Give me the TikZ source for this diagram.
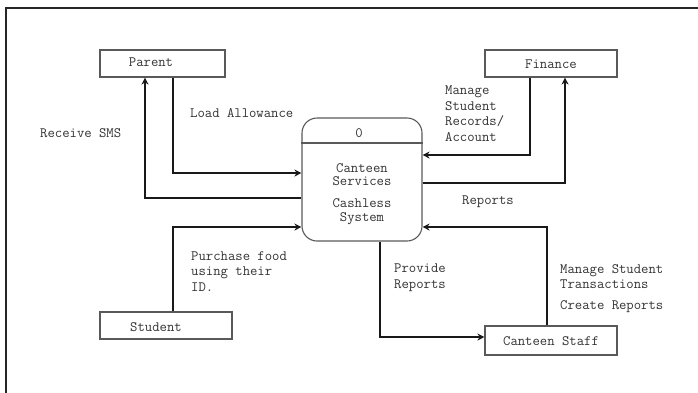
\documentclass[tikz,border=0pt]{standalone}
\usepackage{fontspec}
\usetikzlibrary{arrows.meta}
\begin{document}
\begin{tikzpicture}[x=1pt,y=-1pt,
  ent/.style={draw=black!65,line width=1.1pt,rectangle,inner sep=0},
  flow/.style={draw=black!90,line width=1.5pt,-{Stealth[length=7pt,width=7pt]}},
  lbl/.style={font=\ttfamily\fontsize{14.3}{15.5}\selectfont,text=black!80,align=left,anchor=north west,inner sep=0},
  txt/.style={font=\ttfamily\fontsize{14.3}{13.5}\selectfont,text=black!80,align=center,inner sep=0}]
\useasboundingbox (0,0) rectangle (698,392);
% frame
\draw[line width=1.8pt,black!85] (6,400) -- (6,8) -- (705,8);
% entities
\node[ent,minimum width=125pt,minimum height=27pt] (parent) at (162.5,63.5) {};
\node[txt] at (151,62) {Parent};
\node[ent,minimum width=132pt,minimum height=27pt] (finance) at (551,63.5) {};
\node[txt] at (551,64) {Finance};
\node[ent,minimum width=132pt,minimum height=27pt] (student) at (166,325.5) {};
\node[txt] at (156,327) {Student};
\node[ent,minimum width=132pt,minimum height=29pt] (staff) at (551,340.5) {};
\node[txt] at (551,341) {Canteen Staff};
% process
\node[ent,rounded corners=15pt,minimum width=120pt,minimum height=123pt] (proc) at (362,179.5) {};
\draw[draw=black!65,line width=1.1pt] (proc.west |- 0,143) -- (proc.east |- 0,143);
\node[txt] at (359,133) {0};
\node[txt] at (362,174.5) {Canteen\\Services};
\node[txt] at (362,211.5) {Cashless\\System};
% flows
\coordinate (a1) at (173,173);
\draw[flow] (parent.south -| a1) -- (a1) -- (proc.west |- a1);
\coordinate (a2) at (145,198);
\draw[flow] (proc.west |- a2) -- (a2) -- (parent.south -| a2);
\coordinate (a3) at (530,155);
\draw[flow] (finance.south -| a3) -- (a3) -- (proc.east |- a3);
\coordinate (a4) at (565,183);
\draw[flow] (proc.east |- a4) -- (a4) -- (finance.south -| a4);
\coordinate (a5) at (173,227);
\draw[flow] (student.north -| a5) -- (a5) -- (proc.west |- a5);
\coordinate (a6) at (380,337);
\draw[flow] (proc.south -| a6) -- (a6) -- (staff.west |- a6);
\coordinate (a7) at (547,227);
\draw[flow] (staff.north -| a7) -- (a7) -- (proc.east |- a7);
% labels
\node[lbl] at (190,108) {Load Allowance};
\node[lbl] at (40,128) {Receive SMS};
\node[lbl] at (445,86) {Manage\\Student\\Records/\\Account};
\node[lbl] at (462,196) {Reports};
\node[lbl] at (191,251) {Purchase food\\using their\\ID.};
\node[lbl] at (394,264) {Provide\\Reports};
\node[lbl] at (560,264) {Manage Student\\Transactions};
\node[lbl] at (560,300) {Create Reports};
\end{tikzpicture}
\end{document}
